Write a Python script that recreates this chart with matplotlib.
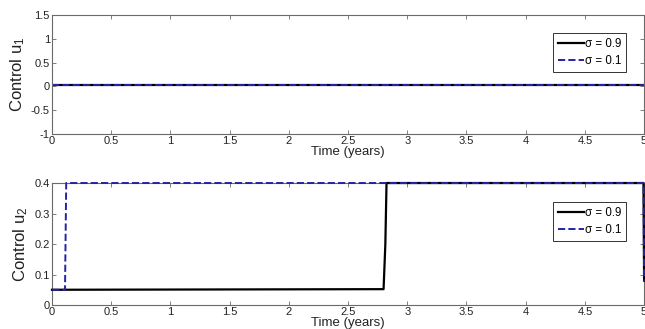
"""Optimal controls u1 and u2 over five years for two sigma values."""
import matplotlib
matplotlib.use("Agg")
import matplotlib.pyplot as plt
import numpy as np

plt.rcParams["font.family"] = ["Liberation Sans", "DejaVu Sans"]
plt.rcParams["mathtext.default"] = "regular"
plt.rcParams["axes.unicode_minus"] = False

# control u1 (both runs sit on the same flat line)
t_u1 = [0.0, 5.0]
u1_s09 = [0.03, 0.03]
u1_s01 = [0.03, 0.03]

# control u2, sigma = 0.9 (solid black)
t_u2_s09 = [0.0, 2.80, 2.815, 2.825, 4.995, 5.0]
u2_s09 = [0.05, 0.052, 0.2, 0.4, 0.4, 0.08]

# control u2, sigma = 0.1 (dashed blue)
t_u2_s01 = [0.0, 0.11, 0.12, 4.995, 5.0]
u2_s01 = [0.05, 0.05, 0.4, 0.4, 0.08]

labels = ["\u03c3 = 0.9", "\u03c3 = 0.1"]
x_ticks = np.arange(0, 5.01, 0.5)
x_tick_labels = ["0", "0.5", "1", "1.5", "2", "2.5", "3", "3.5", "4", "4.5", "5"]
u1_ticks = [-1, -0.5, 0, 0.5, 1, 1.5]
u1_tick_labels = ["-1", "-0.5", "0", "0.5", "1", "1.5"]
u2_ticks = [0, 0.1, 0.2, 0.3, 0.4]
u2_tick_labels = ["0", "0.1", "0.2", "0.3", "0.4"]

BLUE = "#2323a8"
SPINE = "#6a6a6a"


def style_axes(ax, yticks, ytick_labels, ylim, ylabel, leg_y):
    ax.set_xlim(0, 5)
    ax.set_ylim(*ylim)
    ax.set_xticks(x_ticks)
    ax.set_xticklabels(x_tick_labels)
    ax.set_yticks(yticks)
    ax.set_yticklabels(ytick_labels)
    ax.tick_params(direction="in", length=3, width=0.6, color=SPINE,
                   labelsize=8, pad=1.5, top=True, right=True, labelcolor="#222222")
    for s in ax.spines.values():
        s.set_color(SPINE)
        s.set_linewidth(0.8)
    ax.set_xlabel("Time (years)", fontsize=9.5, labelpad=0, color="#222222")
    ax.set_ylabel(ylabel, fontsize=12, labelpad=3, color="#222222")
    leg = ax.legend(loc="upper right", bbox_to_anchor=(0.97, leg_y), fontsize=8.3,
                    handlelength=2.2, handletextpad=0.1, borderpad=0.45,
                    labelspacing=0.45, fancybox=False, framealpha=1,
                    borderaxespad=0)
    leg.get_frame().set_edgecolor("#333333")
    leg.get_frame().set_linewidth(0.7)


fig = plt.figure(figsize=(6.45, 3.29), dpi=100)
ax1 = fig.add_axes([0.0806, 0.5927, 0.918, 0.3617])
ax2 = fig.add_axes([0.0806, 0.0729, 0.918, 0.3708])

ax1.plot(t_u1, u1_s09, color="black", lw=1.6, label=labels[0])
ax1.plot(t_u1, u1_s01, color=BLUE, lw=1.4, ls="--", label=labels[1])
style_axes(ax1, u1_ticks, u1_tick_labels, (-1, 1.5), "Control u$_1$", 0.85)

ax2.plot(t_u2_s09, u2_s09, color="black", lw=1.6, label=labels[0],
         clip_on=False, zorder=3)
ax2.plot(t_u2_s01, u2_s01, color=BLUE, lw=1.4, ls="--", label=labels[1],
         clip_on=False, zorder=3.1)
style_axes(ax2, u2_ticks, u2_tick_labels, (0, 0.4), "Control u$_2$", 0.845)

fig.savefig("out.png", dpi=100)
